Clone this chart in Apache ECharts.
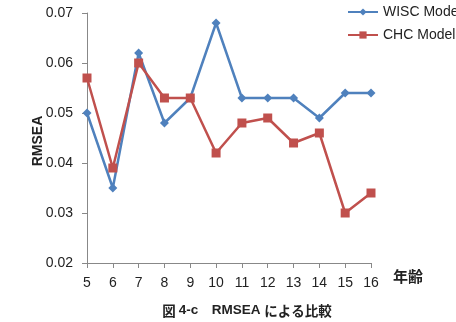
<!DOCTYPE html>
<html lang="ja">
<head>
<meta charset="UTF-8">
<title>RMSEA</title>
<script src="https://cdn.jsdelivr.net/npm/echarts@6/dist/echarts.min.js"></script>
<style>
  html, body { margin: 0; padding: 0; background: #fff; }
  #box { width: 456px; height: 322px; }
</style>
</head>
<body>
<div id="box"></div>
<script>
// 年齢
var ages = ['5', '6', '7', '8', '9', '10', '11', '12', '13', '14', '15', '16'];
// WISC モデル
var wisc = [0.050, 0.035, 0.062, 0.048, 0.053, 0.068, 0.053, 0.053, 0.053, 0.049, 0.054, 0.054];
// CHC モデル
var chc = [0.057, 0.039, 0.060, 0.053, 0.053, 0.042, 0.048, 0.049, 0.044, 0.046, 0.030, 0.034];

var font = '"Liberation Sans", Arial, "Noto Sans CJK JP", sans-serif';
var jp = '"Noto Sans CJK JP", sans-serif';
var myChart = echarts.init(document.getElementById('box'));

var option = {
    animation: false,
    textStyle: { fontFamily: font },
    title: {
        text: '{n|図 }{b|4-c　RMSEA }{n|による比較}',
        left: 242,
        textAlign: 'center',
        top: 299,
        textStyle: {
            rich: {
                n: { fontSize: 13.5, color: '#222', fontFamily: jp },
                b: { fontSize: 13.5, color: '#222', fontWeight: 'bold', fontFamily: font }
            }
        }
    },
    legend: {
        orient: 'vertical',
        left: 342,
        top: 0,
        itemWidth: 30,
        itemHeight: 9,
        itemGap: 9,
        textStyle: { fontSize: 14, color: '#222', fontFamily: font },
        data: ['WISC Model', 'CHC Model']
    },
    grid: { left: 87, right: 85, top: 13, bottom: 59 },
    xAxis: {
        type: 'category',
        data: ages,
        boundaryGap: false,
        name: '年齢',
        nameGap: 22,
        nameMoveOverlap: false,
        nameTextStyle: { fontSize: 15, fontWeight: 'bold', color: '#222', verticalAlign: 'top', padding: [6, 0, 0, 0], fontFamily: jp },
        axisLine: { lineStyle: { color: '#888' } },
        axisTick: { alignWithLabel: true, length: 5, lineStyle: { color: '#888' } },
        axisLabel: { fontSize: 14, color: '#222', margin: 13 },
        splitLine: { show: false }
    },
    yAxis: {
        type: 'value',
        min: 0.02,
        max: 0.07,
        interval: 0.01,
        name: 'RMSEA',
        nameLocation: 'middle',
        nameGap: 42,
        nameMoveOverlap: false,
        nameTextStyle: { fontSize: 14, fontWeight: 'bold', color: '#222', padding: [0, 6, 0, 0] },
        axisLine: { show: true, lineStyle: { color: '#888' } },
        axisTick: { show: true, length: 5, lineStyle: { color: '#888' } },
        axisLabel: { fontSize: 14, color: '#222', margin: 14, formatter: function (v) { return v.toFixed(2); } },
        splitLine: { show: false }
    },
    series: [
        {
            name: 'WISC Model',
            type: 'line',
            data: wisc,
            symbol: 'diamond',
            symbolSize: 9,
            color: '#4F81BD',
            lineStyle: { width: 2.5 }
        },
        {
            name: 'CHC Model',
            type: 'line',
            data: chc,
            symbol: 'rect',
            symbolSize: 9,
            color: '#C0504D',
            lineStyle: { width: 2.5 }
        }
    ]
};
myChart.setOption(option);
</script>
</body>
</html>
